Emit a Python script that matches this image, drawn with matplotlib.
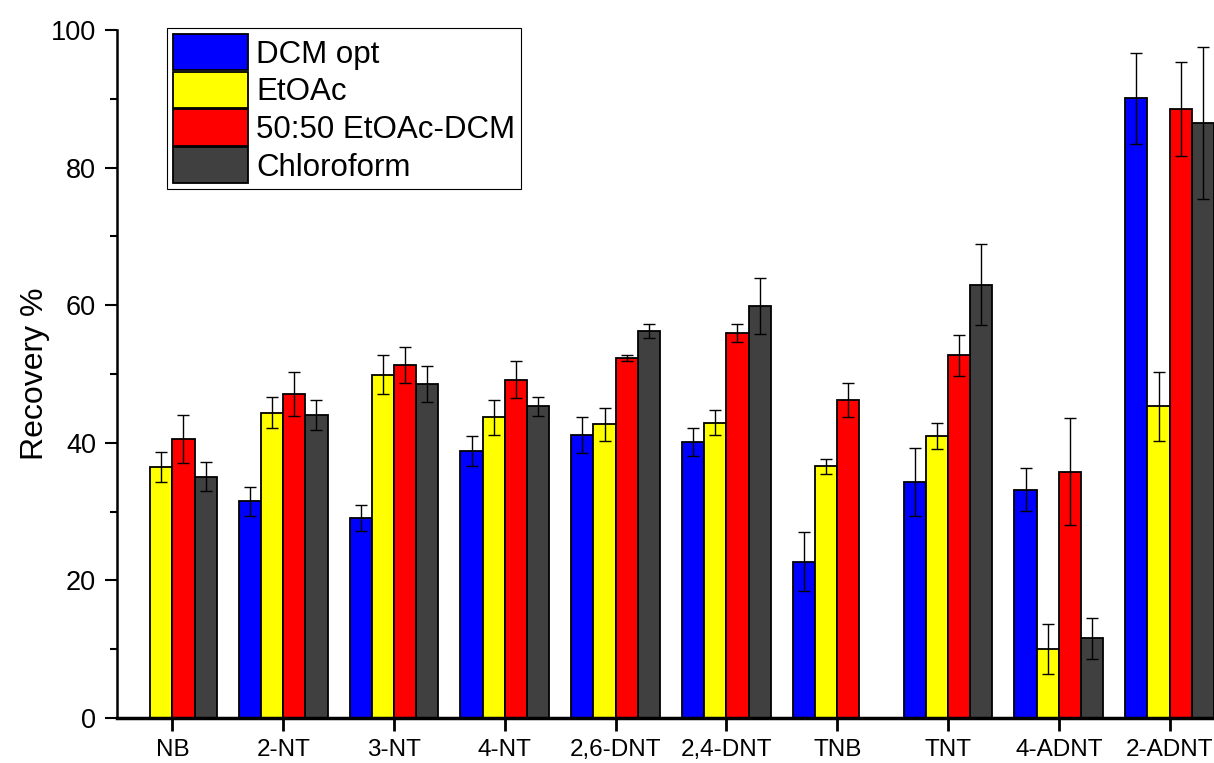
import numpy as np
import matplotlib.pyplot as plt

plt.rcParams['font.family'] = ['Liberation Sans', 'DejaVu Sans']

categorias = ["NB", "2-NT", "3-NT", "4-NT", "2,6-DNT", "2,4-DNT", "TNB", "TNT", "4-ADNT", "2-ADNT"]
series = ["DCM opt", "EtOAc", "50:50 EtOAc-DCM", "Chloroform"]
colores = ["#0000ff", "#ffff00", "#ff0000", "#404040"]

dcm = [np.nan, 31.5, 29.1, 38.8, 41.1, 40.1, 22.7, 34.3, 33.2, 90.1]
dcm_err = [np.nan, 2.1, 1.9, 2.2, 2.6, 2.0, 4.3, 4.9, 3.1, 6.6]
etoac = [36.5, 44.4, 49.9, 43.7, 42.7, 42.9, 36.6, 41.0, 10.0, 45.3]
etoac_err = [2.2, 2.3, 2.8, 2.5, 2.4, 1.8, 1.1, 1.9, 3.6, 5.0]
mezcla = [40.5, 47.1, 51.3, 49.2, 52.3, 56.0, 46.2, 52.7, 35.8, 88.5]
mezcla_err = [3.5, 3.2, 2.6, 2.7, 0.4, 1.3, 2.5, 3.0, 7.8, 6.8]
cloro = [35.1, 44.0, 48.6, 45.3, 56.3, 59.9, np.nan, 63.0, 11.6, 86.5]
cloro_err = [2.1, 2.2, 2.6, 1.4, 1.0, 4.1, np.nan, 5.9, 3.0, 11.0]

valores = [dcm, etoac, mezcla, cloro]
errores = [dcm_err, etoac_err, mezcla_err, cloro_err]

fig = plt.figure(figsize=(12.14, 7.63), dpi=100)
ax = fig.add_axes([117 / 1214, 45 / 763, (1225 - 117) / 1214, (718 - 30) / 763])

x = np.arange(len(categorias))
w = 0.2
for i in range(4):
    ax.bar(x + (i - 1.5) * w, valores[i], w, yerr=errores[i], color=colores[i],
           edgecolor='black', linewidth=1.3, label=series[i],
           error_kw=dict(ecolor='black', elinewidth=1, capsize=4.5, capthick=1))

ax.set_xlim(-0.5, 9.5)
ax.set_ylim(0, 100)
ax.set_xticks(x)
ax.set_xticklabels(categorias, fontsize=17.5)
ax.set_yticks(range(0, 101, 20))
ax.set_yticks(range(10, 100, 20), minor=True)
ax.tick_params(axis='y', labelsize=19.5, width=1.5, length=9, direction='out', pad=6)
ax.tick_params(axis='y', which='minor', width=1.5, length=5)
ax.tick_params(axis='x', width=2, length=9, pad=6)
ax.set_ylabel("Recovery %", fontsize=23, labelpad=1)

for s in ['top', 'right']:
    ax.spines[s].set_visible(False)
ax.spines['left'].set_linewidth(1.8)
ax.spines['bottom'].set_linewidth(2.5)

leg = ax.legend(loc='upper left', bbox_to_anchor=(50 / 1108, 1.003), fontsize=22.5,
                frameon=True, fancybox=False, edgecolor='black', framealpha=1,
                handlelength=2.4, handleheight=1.4, labelspacing=0.05,
                handletextpad=0.25, borderpad=0.2, borderaxespad=0)
leg.get_frame().set_linewidth(0.8)

plt.savefig("out.png", dpi=100)
